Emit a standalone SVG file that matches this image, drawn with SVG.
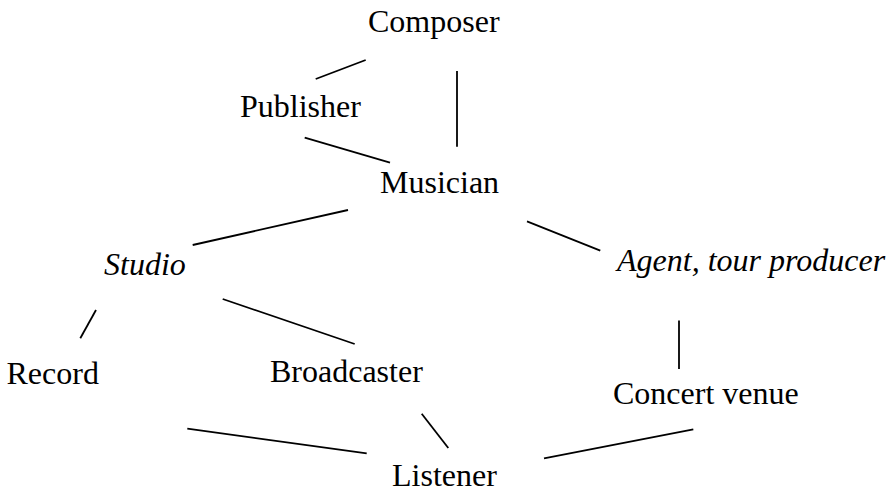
<svg xmlns="http://www.w3.org/2000/svg" width="895" height="493" viewBox="0 0 895 493">
<style>
.lbl { font-family: 'Liberation Serif', 'Times New Roman', Times, serif; font-size: 32px; fill: #000; }
.it { font-style: italic; }
.conn line { stroke: #000; stroke-width: 1.8; }
</style>
<rect width="895" height="493" fill="#fff"/>
<g id="connectors" class="conn">
<line x1="315.7" y1="79" x2="365.7" y2="60"/>
<line x1="457" y1="71" x2="457" y2="146.7"/>
<line x1="304.7" y1="137.7" x2="390" y2="162.7"/>
<line x1="192.7" y1="245" x2="348" y2="210"/>
<line x1="527" y1="221.3" x2="600.3" y2="250.7"/>
<line x1="96" y1="310" x2="80.3" y2="338.3"/>
<line x1="222.7" y1="299" x2="354.7" y2="344"/>
<line x1="679" y1="320.5" x2="679" y2="369"/>
<line x1="187.3" y1="428.7" x2="366.7" y2="453.3"/>
<line x1="421.7" y1="413.7" x2="448.3" y2="448"/>
<line x1="544" y1="458.3" x2="693.3" y2="429.3"/>
</g>
<g id="composer"><text class="lbl" x="368" y="32">Composer</text></g>
<g id="publisher"><text class="lbl" x="240" y="117">Publisher</text></g>
<g id="musician"><text class="lbl" x="380" y="193">Musician</text></g>
<g id="studio"><text class="lbl it" x="104" y="275">Studio</text></g>
<g id="agent"><text class="lbl it" x="617" y="271">Agent, tour producer</text></g>
<g id="record"><text class="lbl" x="6.5" y="384">Record</text></g>
<g id="broadcaster"><text class="lbl" x="270" y="382">Broadcaster</text></g>
<g id="concert"><text class="lbl" x="613" y="404">Concert venue</text></g>
<g id="listener"><text class="lbl" x="392" y="486">Listener</text></g>
</svg>
